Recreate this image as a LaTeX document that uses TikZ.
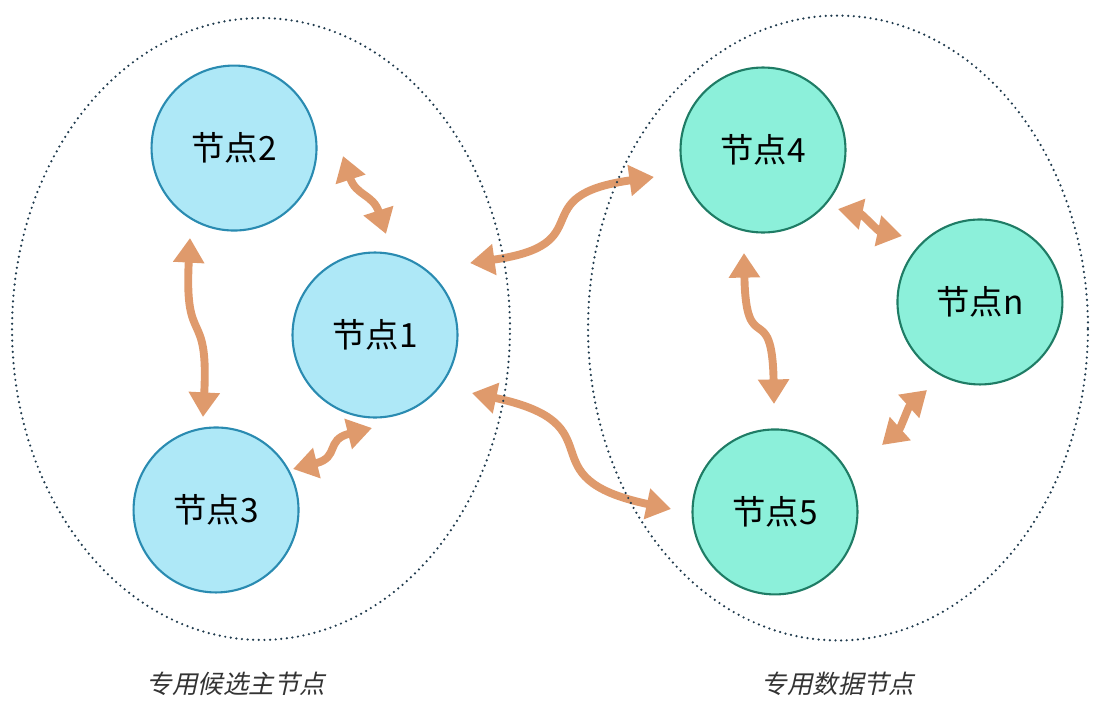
\documentclass[tikz,border=0pt]{standalone}
\usepackage{fontspec}
\usepackage{xcolor}
\usepackage{tikz}
\usetikzlibrary{arrows.meta, positioning, calc}
\newfontfamily\cjk{Noto Sans CJK SC}
\newfontfamily\cjkit[FakeSlant=0.22]{Noto Sans CJK SC}
\definecolor{NodeBlue}{HTML}{AEE8F7}
\definecolor{EdgeBlue}{HTML}{2A8BB1}
\definecolor{NodeGreen}{HTML}{8CF0DA}
\definecolor{EdgeGreen}{HTML}{1F7C65}
\definecolor{LinkOrange}{HTML}{DF9A6C}
\definecolor{GroupDots}{HTML}{1F3A4D}
\definecolor{LabelGrey}{HTML}{333333}

\begin{document}
\begin{tikzpicture}[x=0.02cm, y=0.02cm, on grid, >={Triangle[length=14pt,width=17pt]}]
    \tikzstyle{master} = [circle, draw=EdgeBlue, fill=NodeBlue, line width=1.2pt, minimum size=3.3cm, inner sep=0pt, font=\cjk\fontsize{19}{22}\selectfont]
    \tikzstyle{data} = [master, draw=EdgeGreen, fill=NodeGreen]
    \tikzstyle{group} = [draw=GroupDots, line width=1.4pt, line cap=round, dash pattern=on 0pt off 3.2pt]
    \tikzstyle{grouplabel} = [text=LabelGrey, font=\cjkit\fontsize{14.5}{17}\selectfont]
    \tikzstyle{link} = [draw=LinkOrange, line width=4.5pt, <->, looseness=2]

    \useasboundingbox (0,0) rectangle (1106,-711);

    % master eligible nodes
    \node [master] (n1) at (375,-335) {节点1};
    \node [master, above left=3.74cm and 2.82cm of n1] (n2) {节点2};
    \node [master, below left=3.5cm and 3.18cm of n1] (n3) {节点3};

    % data nodes
    \node [data] (n4) at (763,-150) {节点4};
    \node [data, below right=3.04cm and 4.34cm of n4] (nn) {节点n};
    \node [data, below right=7.24cm and 0.24cm of n4] (n5) {节点5};

    % link ends
    \coordinate (l21s) at (343,-156);  \coordinate (l21e) at (386,-234);
    \coordinate (l23s) at (190,-238);  \coordinate (l23e) at (203,-417);
    \coordinate (l31s) at (293,-469);  \coordinate (l31e) at (372,-428);
    \coordinate (l14s) at (470,-263);  \coordinate (l14e) at (654,-177);
    \coordinate (l15s) at (472,-393);  \coordinate (l15e) at (671,-509);
    \coordinate (l4ns) at (838,-209);  \coordinate (l4ne) at (902,-236);
    \coordinate (l45s) at (744,-253);  \coordinate (l45e) at (774,-404);
    \coordinate (l5ns) at (882,-445);  \coordinate (l5ne) at (927,-390);

    \draw [link, looseness=1.2] (l21s) to[out=-72, in=108] (l21e);
    \draw [link, looseness=1.6] (l23s) to[out=-93, in=87] (l23e);
    \draw [link, looseness=1.4] (l31s) to[out=14, in=194] (l31e);
    \draw [link, looseness=1.7] (l14s) to[out=8, in=188] (l14e);
    \draw [link, looseness=1.7] (l15s) to[out=-12, in=168] (l15e);
    \draw [link, looseness=0.9] (l4ns) to[out=-12, in=168] (l4ne);
    \draw [link, looseness=1.8] (l45s) to[out=-89, in=91] (l45e);
    \draw [link, looseness=0.9] (l5ns) to[out=42, in=222] (l5ne);

    % groups
    \draw [group] (261,-329) ellipse [x radius=4.98cm, y radius=6.22cm];
    \draw [group] (838,-328) ellipse [x radius=5cm, y radius=6.25cm];
    \node [grouplabel] (masterlbl) at (236,-684) {专用候选主节点};
    \node [grouplabel] (datalbl) at (838,-684) {专用数据节点};
\end{tikzpicture}
\end{document}
